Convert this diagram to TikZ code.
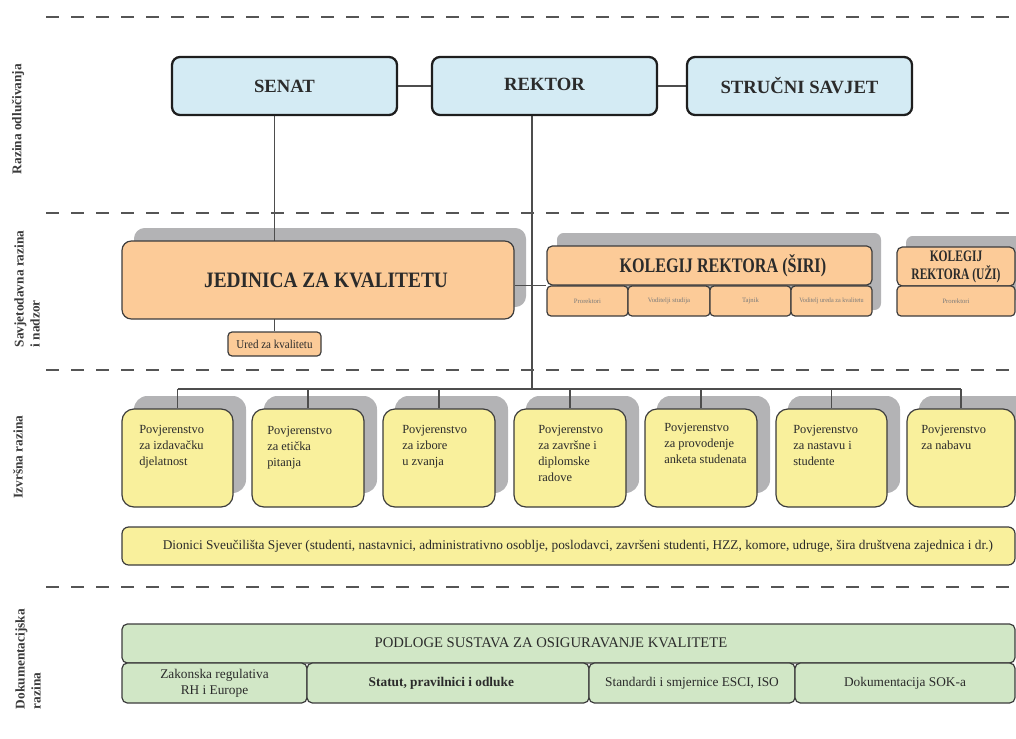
\documentclass[tikz,border=0pt]{standalone}
\usepackage{fontspec}
\setmainfont{Liberation Serif}
\definecolor{blueF}{HTML}{D4EBF4}
\definecolor{orangeF}{HTML}{FCCB98}
\definecolor{yellowF}{HTML}{F9F09C}
\definecolor{greenF}{HTML}{D1E7C6}
\definecolor{shadC}{HTML}{B3B3B5}
\definecolor{dashC}{HTML}{555555}
\definecolor{connC}{HTML}{4D4D4D}
\definecolor{boxB}{HTML}{3C3C3C}
\definecolor{topB}{HTML}{1E1E1E}
\definecolor{txt}{HTML}{2B2B2B}
\definecolor{sideC}{HTML}{3A3A3A}
\definecolor{smallC}{HTML}{7A7A7A}
\pgfdeclarelayer{shadowlayer}
\pgfdeclarelayer{linelayer}
\pgfsetlayers{shadowlayer,linelayer,main}
\begin{document}
\begin{tikzpicture}[x=0.75pt,y=-0.75pt,
  every node/.style={text=txt},
  rect/.style args={#1,#2,#3,#4}{minimum width={(#3-#1)*0.75pt}, minimum height={(#4-#2)*0.75pt}, at={({(#1+#3)/2},{(#2+#4)/2})}},
  sepline/.style={draw=dashC, line width=1.2pt, dash pattern=on 9.75pt off 9pt},
  side/.style={font=\bfseries\fontsize{10}{12}\selectfont, text=sideC, inner sep=0pt, rotate=90},
  conn/.style={draw=connC, line width=0.9pt},
  shad/.style={fill=shadC},
  topbox/.style={draw=topB, line width=1.7pt, fill=blueF, rounded corners=6pt, inner sep=0pt, font=\bfseries\fontsize{14}{16}\selectfont},
  obox/.style={draw=boxB, line width=0.9pt, fill=orangeF, inner sep=0pt},
  ybox/.style={draw=boxB, line width=0.9pt, fill=yellowF, inner sep=0pt, rounded corners=9pt},
  gbox/.style={draw=boxB, line width=0.9pt, fill=greenF, inner sep=0pt, rounded corners=4pt},
  ptext/.style={anchor=north west, align=left, inner sep=0pt, font=\fontsize{9.3}{12}\selectfont},
  smalltext/.style={font=\fontsize{5}{6}\selectfont, text=smallC},
  gtext/.style={font=\fontsize{10}{12}\selectfont, align=center},
]
\useasboundingbox (0,0) rectangle (1016,738);

% level separators
\foreach \yy in {17,213,370,587} \draw[sepline] (46,\yy) -- (1016,\yy);

% side labels
\node[side] (l1) at (18,119) {Razina odlučivanja};
\node[side, align=left] (l2) at (27,289) {Savjetodavna razina\\i nadzor};
\node[side] (l3) at (18,457) {Izvršna razina};
\node[side, align=left] (l4) at (28,659) {Dokumentacijska\\razina};

% shadows
\begin{pgfonlayer}{shadowlayer}
\fill[shad, rounded corners=8pt] (134,228) rectangle (526,307);
\fill[shad, rounded corners=5pt] (557,233) rectangle (881,310);
\fill[shad, rounded corners=5pt] (906,236) rectangle (1030,300);
\foreach \xa/\xb in {122/233,252/364,383/495,514/626,645/757,776/887,907/1015}
  \fill[shad, rounded corners=10pt] (\xa+12,396) rectangle (\xb+13,493);
\end{pgfonlayer}

% decision level
\node[topbox, rect={172,57,397,115}] (senat) {SENAT};
\node[topbox, rect={432,57,657,115}] (rektor) {\raisebox{2.5pt}{REKTOR}};
\node[topbox, rect={687,57,912,115}] (strucni) {STRUČNI SAVJET};

% advisory level
\node[obox, rounded corners=7pt, rect={122,241,514,319}, font=\bfseries\fontsize{16.5}{18}\selectfont] (jed) {\hspace{12pt}\scalebox{0.88}[1]{JEDINICA ZA KVALITETU}};
\node[obox, rounded corners=3pt, rect={228,332,321,356}, font=\fontsize{9}{10}\selectfont] (ured) {\scalebox{0.92}[1]{Ured za kvalitetu}};

\node[obox, rounded corners=4pt, rect={547,246,872,285}, font=\bfseries\fontsize{15.5}{17}\selectfont] (kw) {\hspace{20pt}\scalebox{0.78}[1]{KOLEGIJ REKTORA (ŠIRI)}};
\node[obox, rounded corners=3pt, rect={547,286,628,316}, smalltext] (k1) {Prorektori};
\node[obox, rounded corners=3pt, rect={628,286,710,316}, smalltext] (k2) {Voditelji studija};
\node[obox, rounded corners=3pt, rect={710,286,791,316}, smalltext] (k3) {Tajnik};
\node[obox, rounded corners=3pt, rect={791,286,872,316}, smalltext] (k4) {\scalebox{0.92}[1]{Voditelj ureda za kvalitetu}};

\node[obox, rounded corners=4pt, rect={897,247,1015,286}, font=\bfseries\fontsize{12}{13.5}\selectfont, align=center] (ku) {\scalebox{0.72}[1]{KOLEGIJ}\\\scalebox{0.72}[1]{REKTORA (UŽI)}};
\node[obox, rounded corners=3pt, rect={897,286,1015,316}, smalltext] (ku1) {Prorektori};

% executive level
\foreach \i/\xa/\xb in {1/122/233,2/252/364,3/383/495,4/514/626,5/645/757,6/776/887,7/907/1015}
  \node[ybox, rect={\xa,409,\xb,507}] (p\i) {};
\node[ptext] (t1) at (139,425) {Povjerenstvo\\za izdavačku\\djelatnost};
\node[ptext] (t2) at (267,426) {Povjerenstvo\\za etička\\pitanja};
\node[ptext] (t3) at (402,425) {Povjerenstvo\\za izbore\\u zvanja};
\node[ptext] (t4) at (538,425) {Povjerenstvo\\za završne i\\diplomske\\radove};
\node[ptext] (t5) at (664,423) {Povjerenstvo\\za provodenje\\anketa studenata};
\node[ptext] (t6) at (793,425) {Povjerenstvo\\za nastavu i\\studente};
\node[ptext] (t7) at (921,425) {Povjerenstvo\\za nabavu};

\node[ybox, rounded corners=5pt, rect={122,527,1015,565}, font=\fontsize{10}{12}\selectfont] (dion) {\hspace{14pt}Dionici Sveučilišta Sjever (studenti, nastavnici, administrativno osoblje, poslodavci, završeni studenti, HZZ, komore, udruge, šira društvena zajednica i dr.)};

% documentation level
\node[gbox, rect={122,624,1015,663}] (pod) {};
\node[font=\fontsize{11}{13}\selectfont, inner sep=0pt] (podt) at (551,643) {PODLOGE SUSTAVA ZA OSIGURAVANJE KVALITETE};
\node[gbox, rect={122,663,307,703}, gtext] (g1) {Zakonska regulativa\\RH i Europe};
\node[gbox, rect={307,663,589,703}, gtext, font=\bfseries\fontsize{10}{12}\selectfont] (g2) {\hspace{-10pt}Statut, pravilnici i odluke};
\node[gbox, rect={589,663,795,703}, gtext] (g3) {Standardi i smjernice ESCI, ISO};
\node[gbox, rect={795,663,1015,703}, gtext] (g4) {Dokumentacija SOK-a};

% connectors
\begin{pgfonlayer}{linelayer}
\draw[conn] (senat.east) -- (rektor.west);
\draw[conn] (rektor.east) -- (strucni.west);
\draw[conn] (senat.south -| ured.north) -- (ured.north);
\coordinate (bus) at (532,389);
\draw[conn] (rektor.south -| bus) -- (bus);
\draw[conn] (k1.north west -| jed.east) -- (k1.north west);
\draw[conn] (p1.north |- bus) -- (p7.north |- bus);
\foreach \i in {1,...,7} \draw[conn] (p\i.north |- bus) -- (p\i.north);
\end{pgfonlayer}
\end{tikzpicture}
\end{document}
